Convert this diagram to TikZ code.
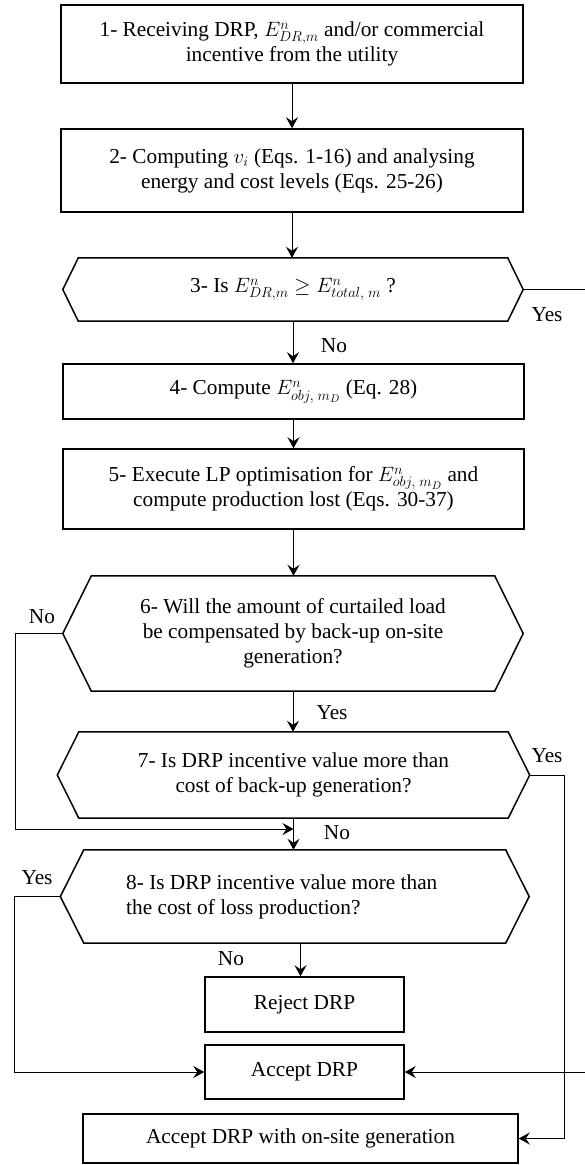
\documentclass[tikz,border=0pt]{standalone}
\usepackage{fontspec}
\setmainfont{Liberation Serif}
\usetikzlibrary{arrows.meta,calc}
\newcommand\myfs{\fontsize{21.3}{25}\selectfont}
\newcommand\hexdraw[2]{%
  \draw[line width=1.5pt, line join=miter] (#1.north west) -- (#1.north east) -- ([xshift=#2pt]#1.east) -- (#1.south east) -- (#1.south west) -- ([xshift=-#2pt]#1.west) -- cycle;
  \coordinate (#1E) at ([xshift=#2pt]#1.east);
  \coordinate (#1W) at ([xshift=-#2pt]#1.west);}
\begin{document}
\begin{tikzpicture}[x=1pt,y=-1pt,
  box/.style={draw, line width=1.5pt, inner sep=0pt, align=center, font=\myfs},
  hexin/.style={inner sep=0pt, align=center, font=\myfs},
  lbl/.style={inner sep=0pt, font=\myfs},
  arr/.style={line width=1pt, -{Stealth[length=11pt,width=12pt,inset=4pt]}},
  conn/.style={line width=1pt}]
\useasboundingbox (0,0) rectangle (585,1165);

\node[box, minimum width=462pt, minimum height=78pt] (b1) at (292,44)
  {1- Receiving DRP, $E^n_{DR,m}$ and/or commercial\\incentive from the utility};
\node[box, minimum width=462pt, minimum height=83pt] (b2) at (292,170.5)
  {2- Computing $v_i$ (Eqs. 1-16) and analysing\\energy and cost levels (Eqs. 25-26)};
\node[hexin, minimum width=429pt, minimum height=63pt] (h3) at (293,289.5)
  {3- Is $E^n_{DR,m} \geq E^n_{total,\;m}$ ?};
\hexdraw{h3}{15.5}
\node[box, minimum width=461pt, minimum height=55pt] (b4) at (293.5,391.5)
  {4- Compute $E^n_{obj,\;m_D}$ (Eq. 28)};
\node[box, minimum width=461pt, minimum height=80pt] (b5) at (293.5,489)
  {5- Execute LP optimisation for $E^n_{obj,\;m_D}$ and\\compute production lost (Eqs. 30-37)};
\node[hexin, minimum width=403pt, minimum height=115pt] (h6) at (293,633.5)
  {6- Will the amount of curtailed load\\be compensated by back-up on-site\\generation?};
\hexdraw{h6}{28.5}
\node[hexin, minimum width=429pt, minimum height=86pt] (h7) at (293.5,775)
  {7- Is DRP incentive value more than\\cost of back-up generation?};
\hexdraw{h7}{21.5}
\node[hexin, minimum width=421.5pt, minimum height=93pt] (h8) at (294.75,896.5) {};
\hexdraw{h8}{23.5}
\node[hexin, align=left, anchor=west] (t8) at (126,897)
  {8- Is DRP incentive value more than\\the cost of loss production?};
\node[box, minimum width=199pt, minimum height=55pt] (rej) at (304.5,1004.5) {Reject DRP};
\node[box, minimum width=199pt, minimum height=54pt] (acc) at (304.5,1072) {Accept DRP};
\node[box, minimum width=435pt, minimum height=49pt] (aos) at (300.5,1138.5) {Accept DRP with on-site generation};

% labels
\node[lbl] (y3) at (547,315) {Yes};
\node[lbl] (n3) at (334,346) {No};
\node[lbl] (n6) at (42,617) {No};
\node[lbl] (y6) at (332,713) {Yes};
\node[lbl] (y7) at (547,756) {Yes};
\node[lbl] (n7) at (337,833) {No};
\node[lbl] (y8) at (37,878) {Yes};
\node[lbl] (n8) at (231,959) {No};

% helper coordinates
\coordinate (offR) at (592,0);
\coordinate (leftA) at (15,0);
\coordinate (leftB) at (14,0);
\coordinate (rightA) at (564,0);
\coordinate (m67) at (293.5,829);

% connectors
\draw[arr] (b1.south) -- (b2.north);
\draw[arr] (b2.south) -- (b2.south |- h3.north);
\draw[arr] (h3.south) -- (h3.south |- b4.north);
\draw[arr] (b4.south) -- (b5.north);
\draw[arr] (b5.south) -- (b5.south |- h6.north);
\draw[arr] (h6.south) -- (h6.south |- h7.north);
\draw[arr] (h7.south) -- (h7.south |- h8.north);
\draw[arr] ([xshift=-4pt]rej.north |- h8.south) -- ([xshift=-4pt]rej.north);
\draw[arr] (h3E) -- (h3E -| offR) |- (acc.east);
\draw[arr] (h6W) -- (h6W -| leftA) |- (m67);
\draw[arr] (h7E) -- (h7E -| rightA) |- (aos.east);
\draw[arr] (h8W) -- (h8W -| leftB) |- (acc.west);
\end{tikzpicture}
\end{document}
